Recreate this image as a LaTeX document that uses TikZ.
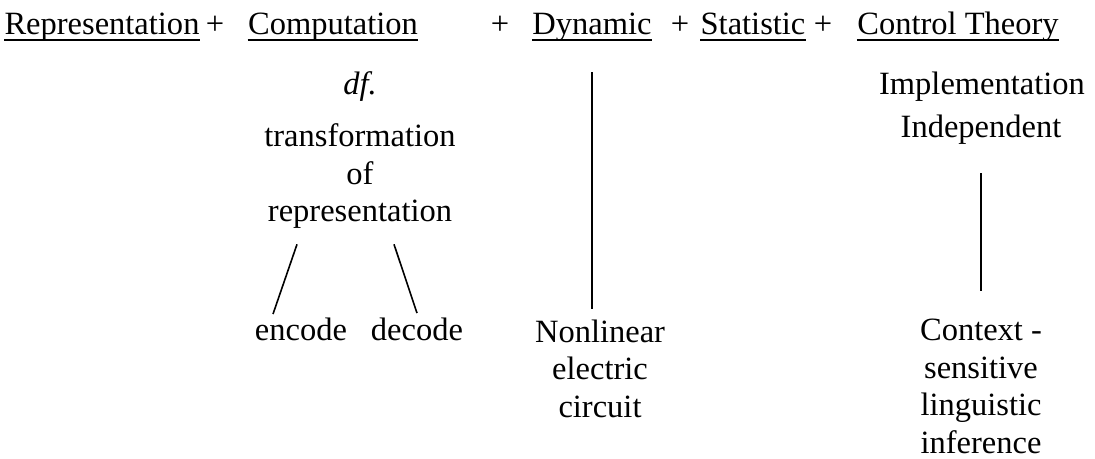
\documentclass[tikz,border=0pt]{standalone}
\usepackage{fontspec}
\setmainfont{Liberation Serif}
\usetikzlibrary{positioning}
\tikzset{
    heading/.style={anchor=base, inner sep=0pt},
    plain/.style={anchor=base, inner sep=0pt, align=center},
    branch/.style={line width=0.8pt},
    underl/.style={line width=0.7pt}
}

\begin{document}
\begin{tikzpicture}[x=0.5pt, y=-0.5pt, font=\fontsize{16.25}{18.75}\selectfont]
  \useasboundingbox (0,0) rectangle (1095,459);
  % heading line
  \node[heading] (rep) at (102,35) {Representation};
  \node[heading] (plusa) at (215,35) {+};
  \node[heading] (comp) at (333,35) {Computation};
  \node[heading] (plusb) at (500,35) {+};
  \node[heading] (dyn) at (592,35) {Dynamic};
  \node[heading] (plusc) at (680,35) {+};
  \node[heading] (stat) at (753,35) {Statistic};
  \node[heading] (plusd) at (823,35) {+};
  \node[heading] (ctrl) at (958,35) {Control Theory};
  \foreach \n in {rep,comp,dyn,stat,ctrl}
    \draw[underl] ([yshift=-2.5pt]\n.base west) -- ([yshift=-2.5pt]\n.base east);
  % computation column
  \node[plain] (df) at (360,95) {\textit{df.}};
  \node[plain] (transf) at (360,222) {transformation\\of\\representation};
  \node[plain] (enc) at (301,340) {encode};
  \node[plain] (dec) at (417,340) {decode};
  \draw[branch] ([shift={(-63,15)}]transf.south) -- ([shift={(-28,-3)}]enc.north);
  \draw[branch] ([shift={(34,15)}]transf.south) -- ([shift={(0,-4)}]dec.north);
  % dynamic column
  \node[plain] (nonlin) at (600,417) {Nonlinear\\electric\\circuit};
  \draw[branch, shorten <=15pt, shorten >=5pt] (dyn.south) -- (dyn.south |- nonlin.north);
  % control theory column
  \node[plain] (impl) at (982,95) {Implementation};
  \node[plain] (indep) at (981,138) {Independent};
  \node[plain] (ctx) at (981,453) {Context -\\sensitive\\linguistic\\inference};
  \draw[branch, shorten <=14pt, shorten >=14pt] (indep.south) -- (indep.south |- ctx.north);
\end{tikzpicture}
\end{document}
